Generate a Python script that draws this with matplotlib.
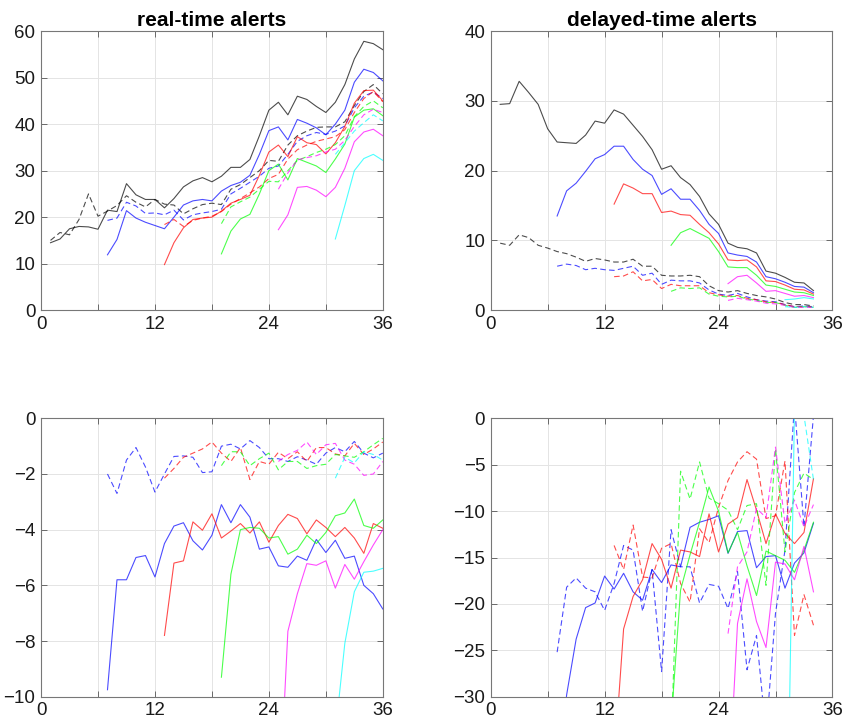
import matplotlib
matplotlib.use("Agg")
import matplotlib.pyplot as plt

plt.rcParams['font.family'] = ['Liberation Sans', 'DejaVu Sans']

colors = ['#000000', '#0000ff', '#ff0000', '#00ff00', '#ff00ff', '#00ffff']
starts = [1, 7, 13, 19, 25, 31]

# real-time alerts (top left), months 1..36
rt_solid_k = [14.5, 15.3, 17.5, 18, 17.9, 17.4, 21.5, 21.2, 27.2, 24.8, 23.8, 23.8, 22.0, 24, 26.5, 27.8, 28.5, 27.6,
              28.8, 30.7, 30.7, 32.4, 37.5, 43, 44.7, 42, 46, 45.3, 43.8, 42.5, 44.7, 48.5, 54, 57.8, 57.3, 56]
rt_dash_k = [15, 16.7, 16.2, 19.5, 25, 20.2, 21.3, 22.5, 24.6, 23.2, 22.2, 23.8, 22.8, 22.6, 20.7, 21.8, 22.7, 23,
             22.7, 26, 27, 28.5, 30, 32.2, 32, 35.5, 37.5, 38.5, 39.3, 39.4, 39.4, 40.5, 44, 47, 48.5, 46.5]
rt_solid_b = [11.9, 15.2, 21.4, 19.8, 18.9, 18.2, 17.5, 20, 22.6, 23.5, 23.8, 23.5, 25.6, 26.8, 27.5, 29, 33.5, 38.6,
              39.4, 36.6, 41, 40.2, 39.2, 37.7, 40, 43, 49, 51.8, 51.1, 49.3]
rt_dash_b = [19.3, 19.8, 23.2, 22.4, 20.8, 20.9, 20.5, 21.5, 19.4, 20.5, 20.9, 21.2, 21.7, 25, 26.2, 27.5, 28.8, 30.5,
             31, 33.5, 36.3, 37.5, 38.2, 37.8, 38.5, 39.6, 43.5, 46, 46.9, 45.5]
rt_solid_r = [9.8, 14.5, 17.7, 19.5, 19.8, 20, 21.3, 23, 23.8, 24.7, 29, 34, 35.5, 33, 37.3, 36, 35.6, 33.6, 36, 39.5,
              44.5, 47.2, 47.3, 45]
rt_dash_r = [18.4, 19.5, 18, 19.3, 19.8, 20.2, 21.2, 22.8, 24, 25.2, 26.5, 28.3, 29.2, 32.5, 34.5, 35.5, 36.3, 36.8,
             37.3, 38.8, 42.5, 45.5, 47, 44.8]
rt_solid_g = [12.1, 17, 19.6, 20.6, 25, 30, 31.4, 28, 32.6, 31.8, 31, 29.6, 32.5, 35.7, 41.5, 43, 43.3, 41.8]
rt_dash_g = [18.6, 22.2, 23.3, 24.3, 26, 27.7, 27.6, 30, 32.2, 33, 33.9, 34.6, 35.6, 37.5, 41.6, 43.8, 45, 43.5]
rt_solid_m = [17.3, 20.5, 26.4, 26.6, 25.8, 24.4, 26.4, 30.5, 36.2, 38.3, 38.9, 37.5]
rt_dash_m = [26, 29.5, 32.3, 32.8, 33.2, 34, 34.6, 36.5, 39.5, 42, 43.2, 42.5]
rt_solid_c = [15.3, 22.5, 30, 32.6, 33.5, 32.2]
rt_dash_c = [33.5, 36, 38.5, 40.3, 42, 40.7]

# delayed-time alerts (top right), months 1..34
dt_solid_k = [29.5, 29.6, 32.8, 31.2, 29.5, 26, 24.1, 24, 23.9, 25.1, 27.1, 26.8, 28.7, 28.1, 26.5, 24.9, 23, 20.2,
              20.7, 19, 18, 16.3, 13.8, 12.3, 9.6, 9, 8.8, 8.2, 5.6, 5.3, 4.7, 4, 3.9, 2.8]
dt_dash_k = [9.6, 9.3, 10.8, 10.4, 9.3, 8.9, 8.4, 8.1, 7.6, 7, 7.4, 7.2, 6.9, 6.9, 7.3, 6.3, 6.3, 5, 4.9, 4.9, 5, 4.8,
             3.5, 2.8, 2.6, 2.8, 2.4, 2.1, 1.9, 1.6, 1.1, 0.8, 0.8, 0.6]
dt_solid_b = [13.5, 17.1, 18.2, 19.9, 21.7, 22.3, 23.5, 23.5, 21.6, 20.2, 19.3, 16.6, 17.4, 15.9, 15.9, 14.3, 12.3, 11,
              8.2, 7.9, 7.7, 6.9, 4.8, 4.5, 4, 3.4, 3.3, 2.5]
dt_dash_b = [6.3, 6.6, 6.4, 5.8, 6, 5.8, 5.7, 6, 6.3, 5, 5.3, 3.7, 4.3, 4.2, 4.2, 3.9, 2.9, 2.3, 2.1, 2.4, 1.9, 1.5,
             1.3, 1.2, 0.8, 0.5, 0.6, 0.5]
dt_solid_r = [15.2, 18.1, 17.5, 16.7, 16.7, 14, 14.2, 13.7, 13.6, 12.3, 11.1, 9.5, 7.2, 7.1, 7.2, 6.2, 4.2, 4.1, 3.6,
              3, 2.9, 2.3]
dt_dash_r = [4.8, 4.9, 5.5, 4.2, 4.4, 3.1, 3.7, 3.5, 3.5, 3.5, 2.5, 2.2, 2, 2.1, 1.7, 1.5, 1.2, 1.1, 0.8, 0.5, 0.5, 0.5]
dt_solid_g = [9.3, 11.1, 11.7, 11, 10.3, 8.4, 6.2, 6.1, 6.1, 5, 3.6, 3.4, 3, 2.6, 2.5, 2.1]
dt_dash_g = [2.7, 3.2, 3.1, 3.2, 2.3, 2, 1.9, 2, 1.6, 1.4, 1.1, 1.1, 0.7, 0.4, 0.5, 0.4]
dt_solid_m = [3.8, 4.8, 5, 3.9, 2.7, 2.8, 2.4, 2, 2.1, 1.8]
dt_dash_m = [1.4, 1.7, 1.5, 1.3, 1, 0.9, 0.7, 0.4, 0.4, 0.4]
dt_solid_c = [1.5, 1.6, 1.8, 1.6]
dt_dash_c = [0.5, 0.4, 0.5, 0.4]

# bottom left, months 7..36
bl_solid_b = [-9.75, -5.8, -5.8, -5.0, -4.93, -5.7, -4.5, -3.87, -3.75, -4.4, -4.73, -4.2, -3.1, -3.75, -3.1, -3.55,
              -4.7, -4.62, -5.3, -5.35, -4.95, -5.1, -4.35, -4.82, -4.38, -5.03, -4.95, -6.0, -6.3, -6.85]
bl_dash_b = [-2.0, -2.7, -1.5, -1.05, -1.75, -2.65, -2.0, -1.37, -1.35, -1.4, -1.95, -1.92, -1.0, -0.93, -1.1, -0.8,
             -1.05, -1.45, -1.45, -1.55, -1.38, -1.5, -1.65, -1.25, -1.05, -1.2, -0.83, -1.25, -1.42, -1.25]
bl_solid_r = [-7.8, -5.2, -5.12, -3.72, -4.02, -3.43, -4.3, -4.05, -3.78, -4.12, -3.72, -4.45, -3.85, -3.45, -3.6,
              -4.15, -3.65, -3.92, -4.25, -3.92, -4.3, -4.85, -3.78, -3.95]
bl_dash_r = [-2.15, -1.8, -1.4, -1.25, -1.1, -0.85, -1.25, -1.55, -1.05, -2.2, -1.55, -1.65, -1.22, -1.45, -1.2, -1.55,
             -1.05, -1.05, -1.28, -1.35, -0.9, -1.3, -1.1, -0.85]
bl_solid_g = [-9.3, -5.6, -4.0, -3.92, -3.95, -4.3, -4.25, -4.88, -4.7, -4.2, -4.5, -4.1, -3.5, -3.4, -2.9, -3.85,
              -3.95, -3.65]
bl_dash_g = [-1.7, -1.2, -1.2, -1.7, -1.45, -1.25, -1.85, -1.55, -1.55, -1.8, -1.7, -1.65, -1.3, -1.35, -1.4, -1.2,
             -0.95, -0.72]
bl_solid_m = [-14.6, -7.65, -6.3, -5.22, -5.28, -5.12, -6.1, -5.25, -5.78, -5.15, -4.55, -4.0]
bl_dash_m = [-1.55, -1.3, -1.15, -0.85, -1.3, -0.95, -0.9, -1.5, -1.65, -2.05, -2.0, -1.55]
bl_solid_c = [-11.3, -8.08, -6.23, -5.53, -5.49, -5.39]
bl_dash_c = [-2.15, -1.4, -1.6, -1.2, -1.3, -1.5]

# bottom right, months 7..34
br_solid_b = [-40, -29.8, -23.8, -20.4, -19.9, -17.0, -18.4, -16.7, -18.7, -19.6, -16.3, -17.7, -15.8, -16.0, -11.75,
              -11.2, -10.9, -10.5, -14.55, -12.2, -12.1, -16.1, -14.9, -14.8, -18.3, -15.6, -14.5, -11.3]
br_dash_b = [-25.2, -18.2, -17.2, -18.3, -18.7, -20.7, -17.8, -13.7, -14.2, -20.8, -16.3, -27.3, -12.0, -16.0, -16.0,
             -19.9, -17.9, -18.1, -20.5, -16.5, -27.1, -23.4, -34, -21.0, -14.2, 1.5, -11.7, 0.3]
br_solid_r = [-37.3, -22.7, -19.2, -17.4, -13.5, -15.2, -18.3, -14.2, -14.4, -14.9, -10.3, -14.4, -11.4, -10.7, -6.6,
              -9.9, -13.5, -10.3, -12.4, -13.5, -12.3, -6.5]
br_dash_r = [-13.7, -16.3, -11.5, -17.1, -17.2, -14.0, -13.5, -17.8, -19.8, -11.9, -13.4, -9.6, -6.7, -4.7, -3.6, -4.4,
             -10.8, -10.5, -4.6, -23.4, -19.0, -22.3]
br_solid_g = [-32.9, -18.5, -14.7, -11.2, -7.4, -10.0, -14.5, -12.3, -15.9, -19.1, -14.3, -14.8, -15.3, -16.6, -14.2,
              -11.2]
br_dash_g = [-35, -5.7, -8.7, -4.7, -8.6, -9.2, -9.9, -12.0, -9.4, -9.2, -18.0, -3.3, -14.4, -8.0, -5.9, -6.6]
br_solid_m = [-41.8, -22.1, -17.3, -21.9, -24.7, -15.5, -15.7, -17.4, -13.8, -18.7]
br_dash_m = [-23.2, -16.0, -14.4, -9.7, -10.7, -3.1, -11.3, -8.8, -11.7, -9.3]
br_solid_c = [-60.5, 0.8, 4, 3]
br_dash_c = [8, 6, 0.3, -6.6]

panels = [
    ([0.0485, 0.571, 0.404, 0.386], 'real-time alerts', (0, 60), range(0, 61, 10),
     [rt_solid_k, rt_solid_b, rt_solid_r, rt_solid_g, rt_solid_m, rt_solid_c],
     [rt_dash_k, rt_dash_b, rt_dash_r, rt_dash_g, rt_dash_m, rt_dash_c]),
    ([0.580, 0.571, 0.404, 0.386], 'delayed-time alerts', (0, 40), range(0, 41, 10),
     [dt_solid_k, dt_solid_b, dt_solid_r, dt_solid_g, dt_solid_m, dt_solid_c],
     [dt_dash_k, dt_dash_b, dt_dash_r, dt_dash_g, dt_dash_m, dt_dash_c]),
    ([0.0485, 0.0364, 0.404, 0.385], None, (-10, 0), range(-10, 1, 2),
     [None, bl_solid_b, bl_solid_r, bl_solid_g, bl_solid_m, bl_solid_c],
     [None, bl_dash_b, bl_dash_r, bl_dash_g, bl_dash_m, bl_dash_c]),
    ([0.580, 0.0364, 0.404, 0.385], None, (-30, 0), range(-30, 1, 5),
     [None, br_solid_b, br_solid_r, br_solid_g, br_solid_m, br_solid_c],
     [None, br_dash_b, br_dash_r, br_dash_g, br_dash_m, br_dash_c]),
]

fig = plt.figure(figsize=(8.46, 7.23), dpi=100)

for rect, title, ylim, yt, solids, dashes in panels:
    ax = fig.add_axes(rect)
    for col, s0, ys, yd in zip(colors, starts, solids, dashes):
        if ys is not None:
            ax.plot(range(s0, s0 + len(ys)), ys, color=col, lw=0.8, alpha=0.7)
        if yd is not None:
            ax.plot(range(s0, s0 + len(yd)), yd, color=col, lw=0.8, alpha=0.7, dashes=(5, 3))
    ax.set_xlim(0, 36)
    ax.set_ylim(*ylim)
    ax.set_xticks(range(0, 37, 6))
    ax.set_xticklabels(['0', '', '12', '', '24', '', '36'])
    ax.set_yticks(list(yt))
    ax.grid(True, color='#e4e4e4', lw=0.7)
    ax.set_axisbelow(True)
    ax.tick_params(direction='in', length=4, width=0.6, colors='#555555', labelcolor='#1a1a1a',
                   labelsize=13.5, top=True, right=True, pad=4)
    for sp in ax.spines.values():
        sp.set_color('#777777')
        sp.set_linewidth(0.8)
    if title:
        ax.set_title(title, fontsize=15, fontweight='bold', pad=4)

fig.savefig('out.png', dpi=100)
